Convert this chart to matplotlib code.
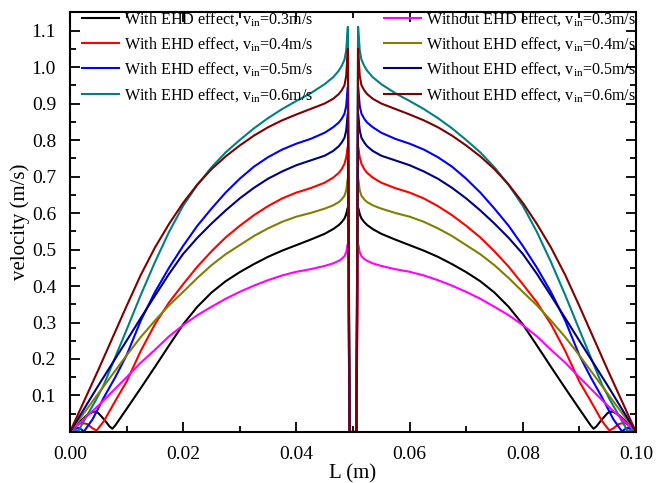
import numpy as np
import matplotlib
matplotlib.use("Agg")
import matplotlib.pyplot as plt
from matplotlib.ticker import MultipleLocator, FormatStrFormatter

plt.rcParams["font.family"] = "Liberation Serif"
plt.rcParams["mathtext.fontset"] = "custom"
plt.rcParams["mathtext.rm"] = "Liberation Serif"
plt.rcParams["mathtext.it"] = "Liberation Serif:italic"

# Profiles are symmetric about L = 0.05 m; only the left half is listed.
# near-wall part (L < 0.01 m), different for each case
xw_ehd_03 = [0, 0.001, 0.002, 0.003, 0.004, 0.0045, 0.005, 0.006, 0.007, 0.0075, 0.008]
vw_ehd_03 = [0, 0.015, 0.032, 0.046, 0.055, 0.056, 0.052, 0.035, 0.015, 0.009, 0.018]
xw_ehd_04 = [0, 0.001, 0.002, 0.003, 0.004, 0.0047, 0.006, 0.008]
vw_ehd_04 = [0, 0.016, 0.025, 0.022, 0.01, 0.004, 0.03, 0.085]
xw_ehd_05 = [0, 0.0008, 0.0015, 0.0025, 0.004, 0.006, 0.008]
vw_ehd_05 = [0, 0.008, 0.012, 0.002, 0.035, 0.095, 0.15]
xw_ehd_06 = [0, 0.0007, 0.0015, 0.003, 0.0045, 0.006, 0.008]
vw_ehd_06 = [0, 0.006, 0.003, 0.045, 0.085, 0.13, 0.205]
xw_no = [0, 0.005]
vw_no_03 = [0, 0.072]
vw_no_04 = [0, 0.105]
vw_no_05 = [0, 0.127]
vw_no_06 = [0, 0.17]

# core part (L >= 0.01 m), common grid; last point is the drop at the central electrode
x_core = [0.01, 0.0125, 0.015, 0.0175, 0.02, 0.0225, 0.025, 0.0275, 0.03, 0.0325, 0.035, 0.0375,
          0.04, 0.0425, 0.045, 0.0465, 0.0475, 0.048, 0.0485, 0.0488, 0.0491, 0.0494]
vc_ehd_03 = [0.063, 0.12, 0.178, 0.237, 0.295, 0.343, 0.382, 0.413, 0.438, 0.46, 0.48, 0.497,
             0.512, 0.527, 0.543, 0.556, 0.567, 0.575, 0.585, 0.597, 0.615, 0]
vc_ehd_04 = [0.138, 0.222, 0.295, 0.355, 0.405, 0.453, 0.495, 0.533, 0.565, 0.594, 0.619, 0.64,
             0.656, 0.668, 0.683, 0.697, 0.71, 0.72, 0.735, 0.752, 0.782, 0]
vc_ehd_05 = [0.21, 0.305, 0.383, 0.45, 0.51, 0.565, 0.612, 0.656, 0.694, 0.727, 0.753, 0.774,
             0.79, 0.803, 0.82, 0.835, 0.848, 0.858, 0.872, 0.893, 0.946, 0]
vc_ehd_06 = [0.28, 0.375, 0.465, 0.548, 0.62, 0.677, 0.725, 0.766, 0.80, 0.832, 0.86, 0.885,
             0.907, 0.928, 0.953, 0.972, 0.99, 1.003, 1.02, 1.045, 1.11, 0]
vc_no_03 = [0.15, 0.19, 0.225, 0.262, 0.293, 0.32, 0.343, 0.365, 0.384, 0.401, 0.416, 0.429,
            0.439, 0.446, 0.455, 0.462, 0.469, 0.474, 0.482, 0.492, 0.516, 0]
vc_no_04 = [0.21, 0.26, 0.305, 0.347, 0.384, 0.422, 0.457, 0.487, 0.512, 0.537, 0.558, 0.576,
            0.59, 0.6, 0.612, 0.621, 0.63, 0.637, 0.647, 0.662, 0.695, 0]
vc_no_05 = [0.25, 0.312, 0.373, 0.433, 0.488, 0.532, 0.571, 0.607, 0.64, 0.669, 0.694, 0.714,
            0.731, 0.744, 0.757, 0.77, 0.783, 0.793, 0.806, 0.826, 0.872, 0]
vc_no_06 = [0.345, 0.43, 0.505, 0.57, 0.628, 0.678, 0.72, 0.755, 0.785, 0.812, 0.835, 0.854,
            0.87, 0.885, 0.9, 0.913, 0.926, 0.936, 0.95, 0.975, 1.05, 0]

labels = ["With EHD effect, v$_{\\rm in}$=0.3m/s", "With EHD effect, v$_{\\rm in}$=0.4m/s",
          "With EHD effect, v$_{\\rm in}$=0.5m/s", "With EHD effect, v$_{\\rm in}$=0.6m/s",
          "Without EHD effect, v$_{\\rm in}$=0.3m/s", "Without EHD effect, v$_{\\rm in}$=0.4m/s",
          "Without EHD effect, v$_{\\rm in}$=0.5m/s", "Without EHD effect, v$_{\\rm in}$=0.6m/s"]
colors = ["black", "#ff0000", "#0000ff", "#008080", "#ff00ff", "#808000", "#000080", "#800000"]

series = [(xw_ehd_03, vw_ehd_03, vc_ehd_03), (xw_ehd_04, vw_ehd_04, vc_ehd_04),
          (xw_ehd_05, vw_ehd_05, vc_ehd_05), (xw_ehd_06, vw_ehd_06, vc_ehd_06),
          (xw_no, vw_no_03, vc_no_03), (xw_no, vw_no_04, vc_no_04),
          (xw_no, vw_no_05, vc_no_05), (xw_no, vw_no_06, vc_no_06)]


def full_profile(xw, vw, vc):
    xl = np.array(xw + x_core)
    vl = np.array(vw + vc)
    x = np.concatenate([xl, 0.1 - xl[::-1]])
    v = np.concatenate([vl, vl[::-1]])
    return x, v


fig = plt.figure(figsize=(6.57, 4.83), dpi=100)
ax = fig.add_axes([0.1065, 0.1056, 0.8615, 0.869])

lines = []
for (xw, vw, vc), c, lab in zip(series, colors, labels):
    x, v = full_profile(xw, vw, vc)
    ln, = ax.plot(x, v, color=c, lw=1.5, label=lab)
    lines.append(ln)

ax.set_xlim(0, 0.1)
ax.set_ylim(0, 1.15)
ax.xaxis.set_major_locator(MultipleLocator(0.02))
ax.xaxis.set_minor_locator(MultipleLocator(0.01))
ax.xaxis.set_major_formatter(FormatStrFormatter("%.2f"))
ax.yaxis.set_minor_locator(MultipleLocator(0.05))
ax.set_yticks(np.arange(0.1, 1.11, 0.1))
ax.yaxis.set_major_formatter(FormatStrFormatter("%.1f"))
ax.tick_params(which="both", direction="in", top=True, right=True, width=1.3, labelsize=14)
ax.tick_params(which="major", length=7)
ax.tick_params(which="minor", length=4)
ax.tick_params(axis="x", pad=10)
ax.tick_params(axis="y", pad=10)
for s in ax.spines.values():
    s.set_linewidth(1.5)

ax.set_xlabel("L (m)", fontsize=15, labelpad=1)
ax.set_ylabel("velocity (m/s)", fontsize=15, labelpad=1)

leg_kw = dict(loc="upper left", frameon=False, fontsize=11.6, handlelength=2.3, handletextpad=0.3,
              borderpad=0, borderaxespad=0, labelspacing=0.45)
leg1 = ax.legend(handles=lines[:4], bbox_to_anchor=(0.022, 1.004), **leg_kw)
ax.add_artist(leg1)
ax.legend(handles=lines[4:], bbox_to_anchor=(0.555, 1.004), **leg_kw)

fig.savefig("out.png", dpi=100)
